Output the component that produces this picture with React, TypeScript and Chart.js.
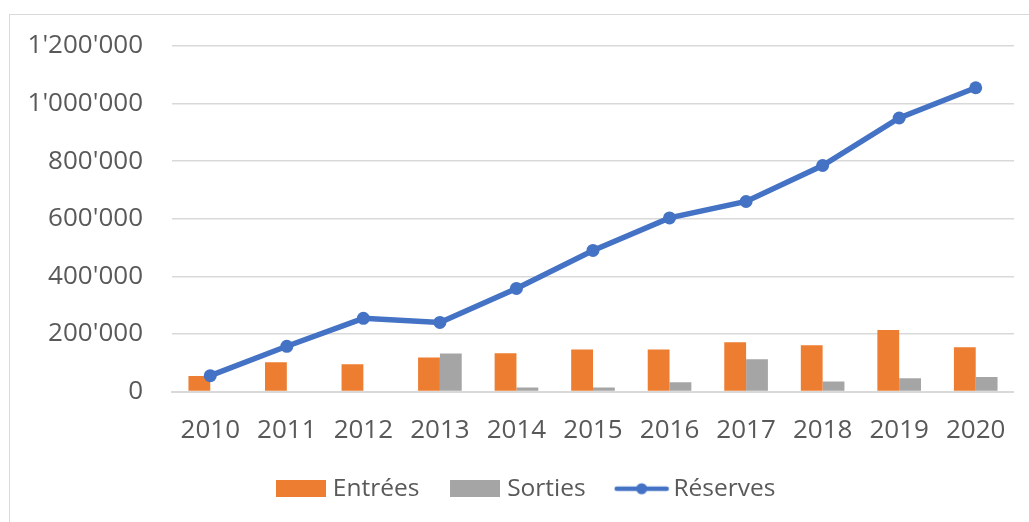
import React, { useEffect, useRef } from "react";
import { Chart, registerables } from "chart.js";

Chart.register(...registerables);

const years = ["2010", "2011", "2012", "2013", "2014", "2015", "2016", "2017", "2018", "2019", "2020"];
const entrees = [54000, 102000, 95000, 118000, 133000, 146000, 146000, 171000, 161000, 214000, 154000];
const sorties = [0, 0, 0, 132000, 14000, 14000, 32000, 112000, 35000, 46000, 50000];
const reserves = [55000, 157000, 254000, 240000, 358000, 490000, 603000, 660000, 785000, 950000, 1055000];
const yTicksMax = 1200000;
const yTickStep = 200000;

const ORANGE = "#ED7D31";
const GREY = "#A5A5A5";
const BLUE = "#4472C4";
const TEXT = "#595959";
const GRID = "#D9D9D9";
const FONT = "'Open Sans', sans-serif";

function fmt(v: number): string {
  return Math.round(v).toString().replace(/\B(?=(\d{3})+(?!\d))/g, "'");
}

function boxImage(color: string): HTMLCanvasElement {
  const c = document.createElement("canvas");
  c.width = 50;
  c.height = 17;
  const ctx = c.getContext("2d")!;
  ctx.fillStyle = color;
  ctx.fillRect(0, 0, 50, 17);
  return c;
}

function lineImage(color: string): HTMLCanvasElement {
  const c = document.createElement("canvas");
  c.width = 56;
  c.height = 14;
  const ctx = c.getContext("2d")!;
  ctx.strokeStyle = color;
  ctx.lineWidth = 4.5;
  ctx.lineCap = "round";
  ctx.beginPath();
  ctx.moveTo(3, 7);
  ctx.lineTo(53, 7);
  ctx.stroke();
  ctx.fillStyle = color;
  ctx.beginPath();
  ctx.arc(28, 7, 5.5, 0, Math.PI * 2);
  ctx.fill();
  return c;
}

const legendShift = {
  id: "legendShift",
  afterLayout(chart: any) {
    const lg = chart.legend;
    if (lg) {
      lg.left += 20;
      lg.right += 20;
    }
  },
};

export default function App() {
  const ref = useRef<HTMLCanvasElement | null>(null);

  useEffect(() => {
    if (!ref.current) return;
    const imgs = [boxImage(ORANGE), boxImage(GREY), lineImage(BLUE)];
    const chart = new Chart(ref.current, {
      type: "bar",
      plugins: [legendShift],
      data: {
        labels: years,
        datasets: [
          {
            type: "line",
            label: "Réserves",
            data: reserves,
            borderColor: BLUE,
            backgroundColor: BLUE,
            borderWidth: 5.5,
            pointRadius: 6.5,
            pointHoverRadius: 6.5,
            pointBorderWidth: 0,
            pointBackgroundColor: BLUE,
            tension: 0,
            order: 0,
          } as any,
          {
            type: "bar",
            label: "Entrées",
            data: entrees,
            backgroundColor: ORANGE,
            borderWidth: 0,
            barPercentage: 1,
            categoryPercentage: 0.57,
            order: 1,
          },
          {
            type: "bar",
            label: "Sorties",
            data: sorties,
            backgroundColor: GREY,
            borderWidth: 0,
            barPercentage: 1,
            categoryPercentage: 0.57,
            order: 2,
          },
        ],
      },
      options: {
        animation: false,
        responsive: false,
        maintainAspectRatio: false,
        layout: { padding: { top: 46, right: 12, bottom: 11, left: 0 } },
        plugins: {
          tooltip: { enabled: false },
          legend: {
            position: "bottom",
            labels: {
              usePointStyle: true,
              pointStyleWidth: 39,
              boxHeight: 17,
              padding: 36.5,
              color: TEXT,
              font: { family: FONT, size: 24.5 },
              generateLabels: () => [
                { text: "Entrées", pointStyle: imgs[0], fillStyle: ORANGE, strokeStyle: ORANGE, lineWidth: 0, datasetIndex: 1, fontColor: TEXT } as any,
                { text: "Sorties", pointStyle: imgs[1], fillStyle: GREY, strokeStyle: GREY, lineWidth: 0, datasetIndex: 2, fontColor: TEXT } as any,
                { text: "Réserves", pointStyle: imgs[2], fillStyle: BLUE, strokeStyle: BLUE, lineWidth: 0, datasetIndex: 0, fontColor: TEXT } as any,
              ],
            },
          },
        },
        scales: {
          x: {
            grid: { display: false, drawTicks: false },
            border: { display: true, color: GRID, width: 2 },
            ticks: { color: TEXT, font: { family: FONT, size: 26 }, padding: 23, maxRotation: 0 },
            afterFit: (axis: any) => {
              axis.height = 48.5;
            },
          },
          y: {
            min: 0,
            max: yTicksMax,
            grid: { color: GRID, lineWidth: 1.5, drawTicks: false },
            border: { display: false },
            ticks: {
              stepSize: yTickStep,
              color: TEXT,
              font: { family: FONT, size: 26 },
              padding: 29,
              callback: (v: any) => fmt(Number(v)),
            },
            afterFit: (axis: any) => {
              axis.width = 172;
            },
          },
        },
      },
    });
    return () => chart.destroy();
  }, []);

  return (
    <div style={{ position: "fixed", left: 0, top: 0, width: 1029, height: 522, background: "#fff", overflow: "hidden" }}>
      <div
        style={{
          position: "absolute",
          left: 9,
          top: 14,
          width: 1040,
          height: 540,
          border: `1px solid ${GRID}`,
          boxSizing: "border-box",
        }}
      />
      <canvas ref={ref} width={1029} height={522} style={{ position: "absolute", left: 0, top: 0, width: 1029, height: 522 }} />
    </div>
  );
}
